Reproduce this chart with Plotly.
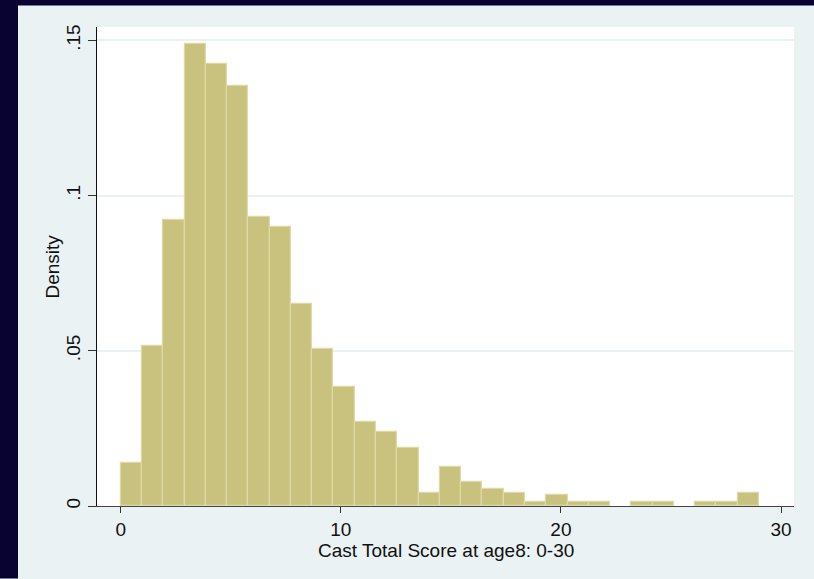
import plotly.graph_objects as go

# Histogram of CAST total score at age 8 (30 bins spanning 0 to 29), density scale
bin_start = 0.0
bin_end = 29.0
n_bins = 30
density = [
    0.0137, 0.0516, 0.0921, 0.1487, 0.1423, 0.1352, 0.0931, 0.0899, 0.0651, 0.0506,
    0.0384, 0.0272, 0.0240, 0.0188, 0.0043, 0.0127, 0.0076, 0.0056, 0.0043, 0.0014,
    0.0034, 0.0014, 0.0014, 0.0, 0.0014, 0.0014, 0.0, 0.0014, 0.0014, 0.0043,
]
x_ticks = [0, 10, 20, 30]
x_tick_text = ["0", "10", "20", "30"]
y_ticks = [0, 0.05, 0.10, 0.15]
y_tick_text = ["0", ".05", ".1", ".15"]
x_title = "Cast Total Score at age8: 0-30"
y_title = "Density"

bin_width = (bin_end - bin_start) / n_bins
centers = [bin_start + (i + 0.5) * bin_width for i in range(n_bins)]
heights = [d if d > 0 else None for d in density]

W, H = 814, 579
L, R, T, B = 97, 20, 27, 72.5
plot_w = W - L - R
plot_h = H - T - B

FONT = "Liberation Sans, Arial, sans-serif"
FS = 19
PANEL = "#EAF2F3"
NAVY = "#080331"

fig = go.Figure()
fig.add_trace(go.Bar(
    x=centers,
    y=heights,
    width=bin_width,
    marker=dict(color="#C9C27E", line=dict(color="#DEDAA8", width=1.2)),
    hoverinfo="x+y",
))


def px_x(p):
    return (p - L) / plot_w


def px_y(p):
    return (H - B - p) / plot_h


# dark frame along the top and left edges of the graph region
shapes = [
    dict(type="rect", xref="paper", yref="paper", x0=px_x(0), x1=px_x(18),
         y0=px_y(H), y1=px_y(0), fillcolor=NAVY, line=dict(width=0), layer="above"),
    dict(type="rect", xref="paper", yref="paper", x0=px_x(0), x1=px_x(W),
         y0=px_y(5.5), y1=px_y(0), fillcolor=NAVY, line=dict(width=0), layer="above"),
]

annotations = [
    dict(text=x_title, xref="paper", yref="paper", x=0.5, y=px_y(551),
         xanchor="center", yanchor="middle", showarrow=False,
         font=dict(family=FONT, size=FS, color="#111111")),
    dict(text=y_title, xref="paper", yref="paper", x=px_x(52), y=0.5,
         xanchor="center", yanchor="middle", showarrow=False, textangle=-90,
         font=dict(family=FONT, size=FS, color="#111111")),
]

fig.update_layout(
    width=W, height=H,
    margin=dict(l=L, r=R, t=T, b=B, pad=0),
    paper_bgcolor=PANEL,
    plot_bgcolor="white",
    showlegend=False,
    bargap=0,
    shapes=shapes,
    annotations=annotations,
    font=dict(family=FONT, size=FS, color="#111111"),
    xaxis=dict(
        range=[-1.077, 30.59],
        tickmode="array", tickvals=x_ticks, ticktext=x_tick_text,
        ticks="outside", ticklen=6, tickwidth=1.2, tickcolor="#333333",
        showgrid=False, zeroline=False,
        showline=True, linecolor="#444444", linewidth=1.2,
        tickfont=dict(family=FONT, size=FS, color="#111111"),
    ),
    yaxis=dict(
        range=[0, 0.1543],
        tickmode="array", tickvals=y_ticks, ticktext=y_tick_text,
        tickangle=-90,
        ticks="outside", ticklen=8, tickwidth=1.2, tickcolor="#333333",
        showgrid=True, gridcolor=PANEL, gridwidth=1.5,
        zeroline=False,
        showline=True, linecolor="#111111", linewidth=1.2,
        tickfont=dict(family=FONT, size=FS, color="#111111"),
    ),
)

fig.write_html("out.html")
